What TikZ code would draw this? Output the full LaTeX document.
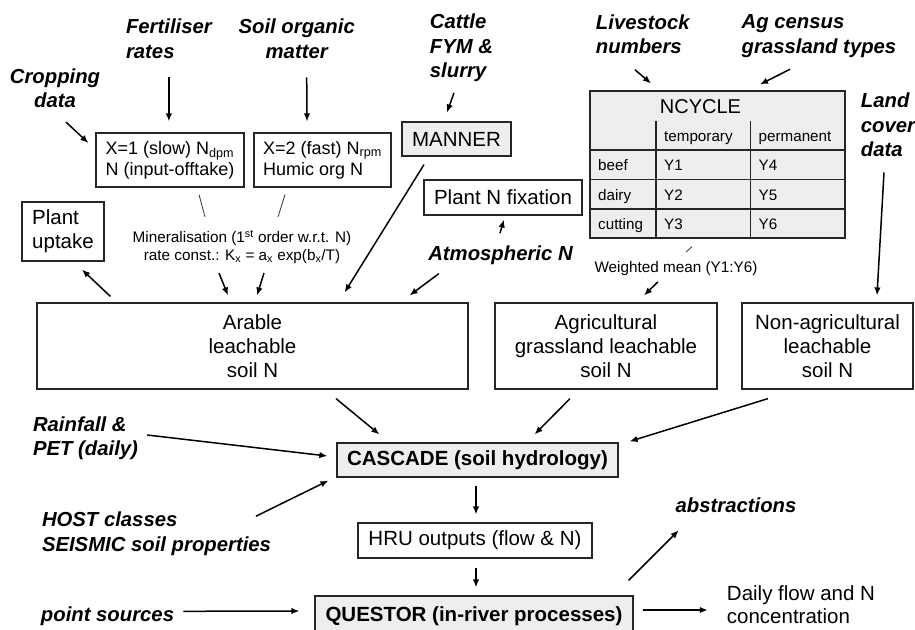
\documentclass[tikz,border=0pt]{standalone}
\usepackage{fontspec}
\setmainfont{Liberation Sans}
\usetikzlibrary{calc,arrows.meta,positioning}

\begin{document}
\begin{tikzpicture}[x=1pt,y=-1pt]
        % Setup the styles for boxes, inputs and arrows
        \tikzset{box style/.style={draw=black!85,
                                   line width=1.2pt,
                                   inner sep=0pt,
                                   align=center,
                                   font=\fontsize{20.5}{24}\selectfont},
                 grey style/.style={box style, fill=gray!13},
                 pool style/.style={box style, align=left,
                                    font=\fontsize{18}{21}\selectfont},
                 input style/.style={inner sep=0pt,
                                     font=\fontsize{20.3}{24.5}\selectfont\bfseries\itshape},
                 note style/.style={inner sep=0pt, align=center,
                                    font=\fontsize{15.3}{18.3}\selectfont},
                 cell style/.style={inner sep=0pt, anchor=base west,
                                    font=\fontsize{15.2}{18}\selectfont},
                 flow/.style={-{Latex[length=8pt,width=6.5pt]}, line width=1.5pt},
                 link/.style={line width=0.8pt, draw=black!80}}

        \useasboundingbox (0,0) rectangle (915,629);
        \clip (0,0) rectangle (915,629);

        % Draw the soil N pools
        \node[pool style, minimum width=148, minimum height=54] at (170, 160)   (slow)     {X=1 (slow) N\textsubscript{dpm}\\N (input-offtake)};
        \node[pool style, minimum width=137, minimum height=54] at (322.5, 160) (fast)     {X=2 (fast) N\textsubscript{rpm}\\Humic org N};
        \node[box style, align=left, minimum width=82, minimum height=59] at (63, 231.5) (uptake) {Plant\\uptake};
        \node[grey style, minimum width=109, minimum height=34] at (456.5, 139) (manner)   {MANNER};
        \node[box style, minimum width=158, minimum height=35] at (503, 197.5)  (fixation) {Plant N fixation};
        \node[box style, minimum width=431, minimum height=86] at (252.5, 346)  (arable)   {Arable\\leachable\\soil N};
        \node[box style, minimum width=222, minimum height=86] at (606, 346)    (grassland) {Agricultural\\grassland leachable\\soil N};
        \node[box style, minimum width=171, minimum height=86] at (827.5, 346)  (nonagri)  {Non-agricultural\\leachable\\soil N};

        % Draw the model chain
        \node[grey style, font=\fontsize{20.5}{24}\selectfont\bfseries, minimum width=281, minimum height=34] at (477.5, 460) (cascade) {CASCADE (soil hydrology)};
        \node[box style, minimum width=234, minimum height=35] at (475, 540.5)  (hru)      {HRU outputs (flow \& N)};
        \node[grey style, font=\fontsize{20.5}{24}\selectfont\bfseries, minimum width=318, minimum height=41] at (474, 616.5) (questor) {QUESTOR (in-river processes)};

        % Draw the NCYCLE table
        \node[grey style, minimum width=255, minimum height=147] at (717.5, 164.5) (ncycle) {};
        \node[anchor=base, inner sep=0pt, font=\fontsize{20}{24}\selectfont] at (700.5, 113) (ncycle title) {NCYCLE};
        \foreach \y in {150, 179.5, 209}
            \draw[line width=1.2pt, draw=black!85] (ncycle.west |- 0,\y) -- (ncycle.east |- 0,\y);
        \foreach \x in {656, 750.5}
            \draw[line width=1.2pt, draw=black!85] (\x, 121) -- (ncycle.south -| \x,0);
        \node[cell style] at (664, 141.5)   (temporary) {temporary};
        \node[cell style] at (758.5, 141.5) (permanent) {permanent};
        \foreach \kind/\ytemp/\yperm/\y [count=\i] in {beef/Y1/Y4/170.5, dairy/Y2/Y5/200, cutting/Y3/Y6/229}
        {
            \node[cell style] at (598, \y)   (kind-\i) {\kind};
            \node[cell style] at (664, \y)   (temp-\i) {\ytemp};
            \node[cell style] at (758.5, \y) (perm-\i) {\yperm};
        }

        % Draw the inputs and notes
        \node[input style, align=center] at (55, 88.2)    (crop)        {Cropping\\data};
        \node[input style, align=left]   at (168.9, 38.5) (fert)        {Fertiliser\\rates};
        \node[input style, align=center] at (296.7, 38.5) (som)         {Soil organic\\matter};
        \node[input style, align=left]   at (461.5, 48)   (cattle)      {Cattle\\FYM \&\\slurry};
        \node[input style, align=left]   at (642.8, 34.2) (livestock)   {Livestock\\numbers};
        \node[input style, align=left]   at (819, 36.3)   (agcensus)    {Ag census\\grassland types};
        \node[input style, align=left]   at (888, 125)    (landcover)   {Land\\cover\\data};
        \node[input style]               at (500.5, 254.8) (atm)        {Atmospheric N};
        \node[input style, align=left]   at (85.5, 438)   (rainfall)    {Rainfall \&\\PET (daily)};
        \node[input style, align=left]   at (156.5, 533.8) (host)       {HOST classes\\SEISMIC soil properties};
        \node[input style]               at (107.5, 615.8) (points)     {point sources};
        \node[input style]               at (736, 505.7)  (abstractions) {abstractions};
        \node[note style] at (242, 247)    (mineral)  {Mineralisation (1\textsuperscript{st} order w.r.t. N)\\rate const.: K\textsubscript{x} = a\textsubscript{x} exp(b\textsubscript{x}/T)};
        \node[note style] at (676, 268.8)  (weighted) {Weighted mean (Y1:Y6)};
        \node[inner sep=0pt, align=left, font=\fontsize{20.5}{23}\selectfont] at (801, 605) (daily) {Daily flow and N\\concentration};

        % Connect the nodes with arrows
        \draw[flow] ($(fert.south)+(0,19)$)            -- ($(fert.south |- slow.north)+(0,-11)$);
        \draw[flow] ($(som.south)+(10,19)$)            -- ($(fast.north)+(-15.5,-11)$);
        \draw[flow] ($(crop.south)+(11,14)$)           -- ($(slow.west)+(-7,-17)$);
        \draw[flow] ($(cattle.south)+(-7.5,10.7)$)     -- ($(manner.north)+(-9.5,-9)$);
        \draw[flow] ($(manner.south)+(-32.5,8)$)       -- ($(arable.north east)+(-124,-10)$);
        \draw[flow] ($(atm.north)+(-0.5,-12)$)         -- ($(fixation.south)+(1,4)$);
        \draw[flow] ($(atm.south west)+(10.7,9.2)$)    -- ($(arable.north east)+(-59,-7)$);
        \draw[flow] ($(mineral.south)+(-23,9)$)        -- ($(arable.north)+(-24.5,-7)$);
        \draw[flow] ($(mineral.south)+(22,9)$)         -- ($(arable.north)+(4.5,-7)$);
        \draw[flow] ($(arable.north west)+(74,-6)$)    -- ($(uptake.south)+(19,8)$);
        \draw[flow] ($(livestock.south)+(-7.8,15.7)$)  -- ($(ncycle.north)+(-66.5,-7)$);
        \draw[flow] ($(agcensus.south)+(-29,11.4)$)    -- ($(ncycle.north)+(42.5,-6)$);
        \draw[flow] ($(weighted.south)+(-18,5.7)$)     -- ($(grassland.north)+(38,-7)$);
        \draw[flow] ($(landcover.south)+(-4,15.3)$)    -- ($(nonagri.north)+(49.5,-7)$);
        \draw[flow] ($(arable.south)+(83.5,9)$)        -- ($(cascade.north west)+(43,-8)$);
        \draw[flow] ($(grassland.south)+(-36,9)$)      -- ($(cascade.north east)+(-84,-8)$);
        \draw[flow] ($(nonagri.south)+(-59.5,9)$)      -- ($(cascade.north east)+(11,-1)$);
        \draw[flow] ($(rainfall.east)+(9,-3)$)         -- ($(cascade.west)+(-9,-4)$);
        \draw[flow] ($(host.north)+(99.5,4.3)$)        -- ($(cascade.south west)+(-8,3)$);
        \draw[flow] ($(cascade.south)+(-1.5,8)$)       -- ($(hru.north)+(1,-8)$);
        \draw[flow] ($(hru.south)+(1,9)$)              -- ($(questor.north)+(2,-8)$);
        \draw[flow] ($(points.east)+(9,-4.5)$)         -- ($(questor.west)+(-15,-5.5)$);
        \draw[flow] ($(questor.north east)+(-5,-15)$)  -- ($(abstractions.south west)+(3.2,17)$);
        \draw[flow] ($(questor.east)+(9,-6.5)$)        -- ($(daily.west)+(-19,5)$);

        % Thin links to the notes
        \draw[link] ($(slow.south)+(29,7)$)     -- ($(mineral.north)+(-37,-13)$);
        \draw[link] ($(fast.south)+(-37.5,7)$)  -- ($(mineral.north)+(36,-13)$);
        \draw[link] ($(ncycle.south)+(-25.5,8)$) -- ($(weighted.north)+(10,-9.4)$);
\end{tikzpicture}
\end{document}
